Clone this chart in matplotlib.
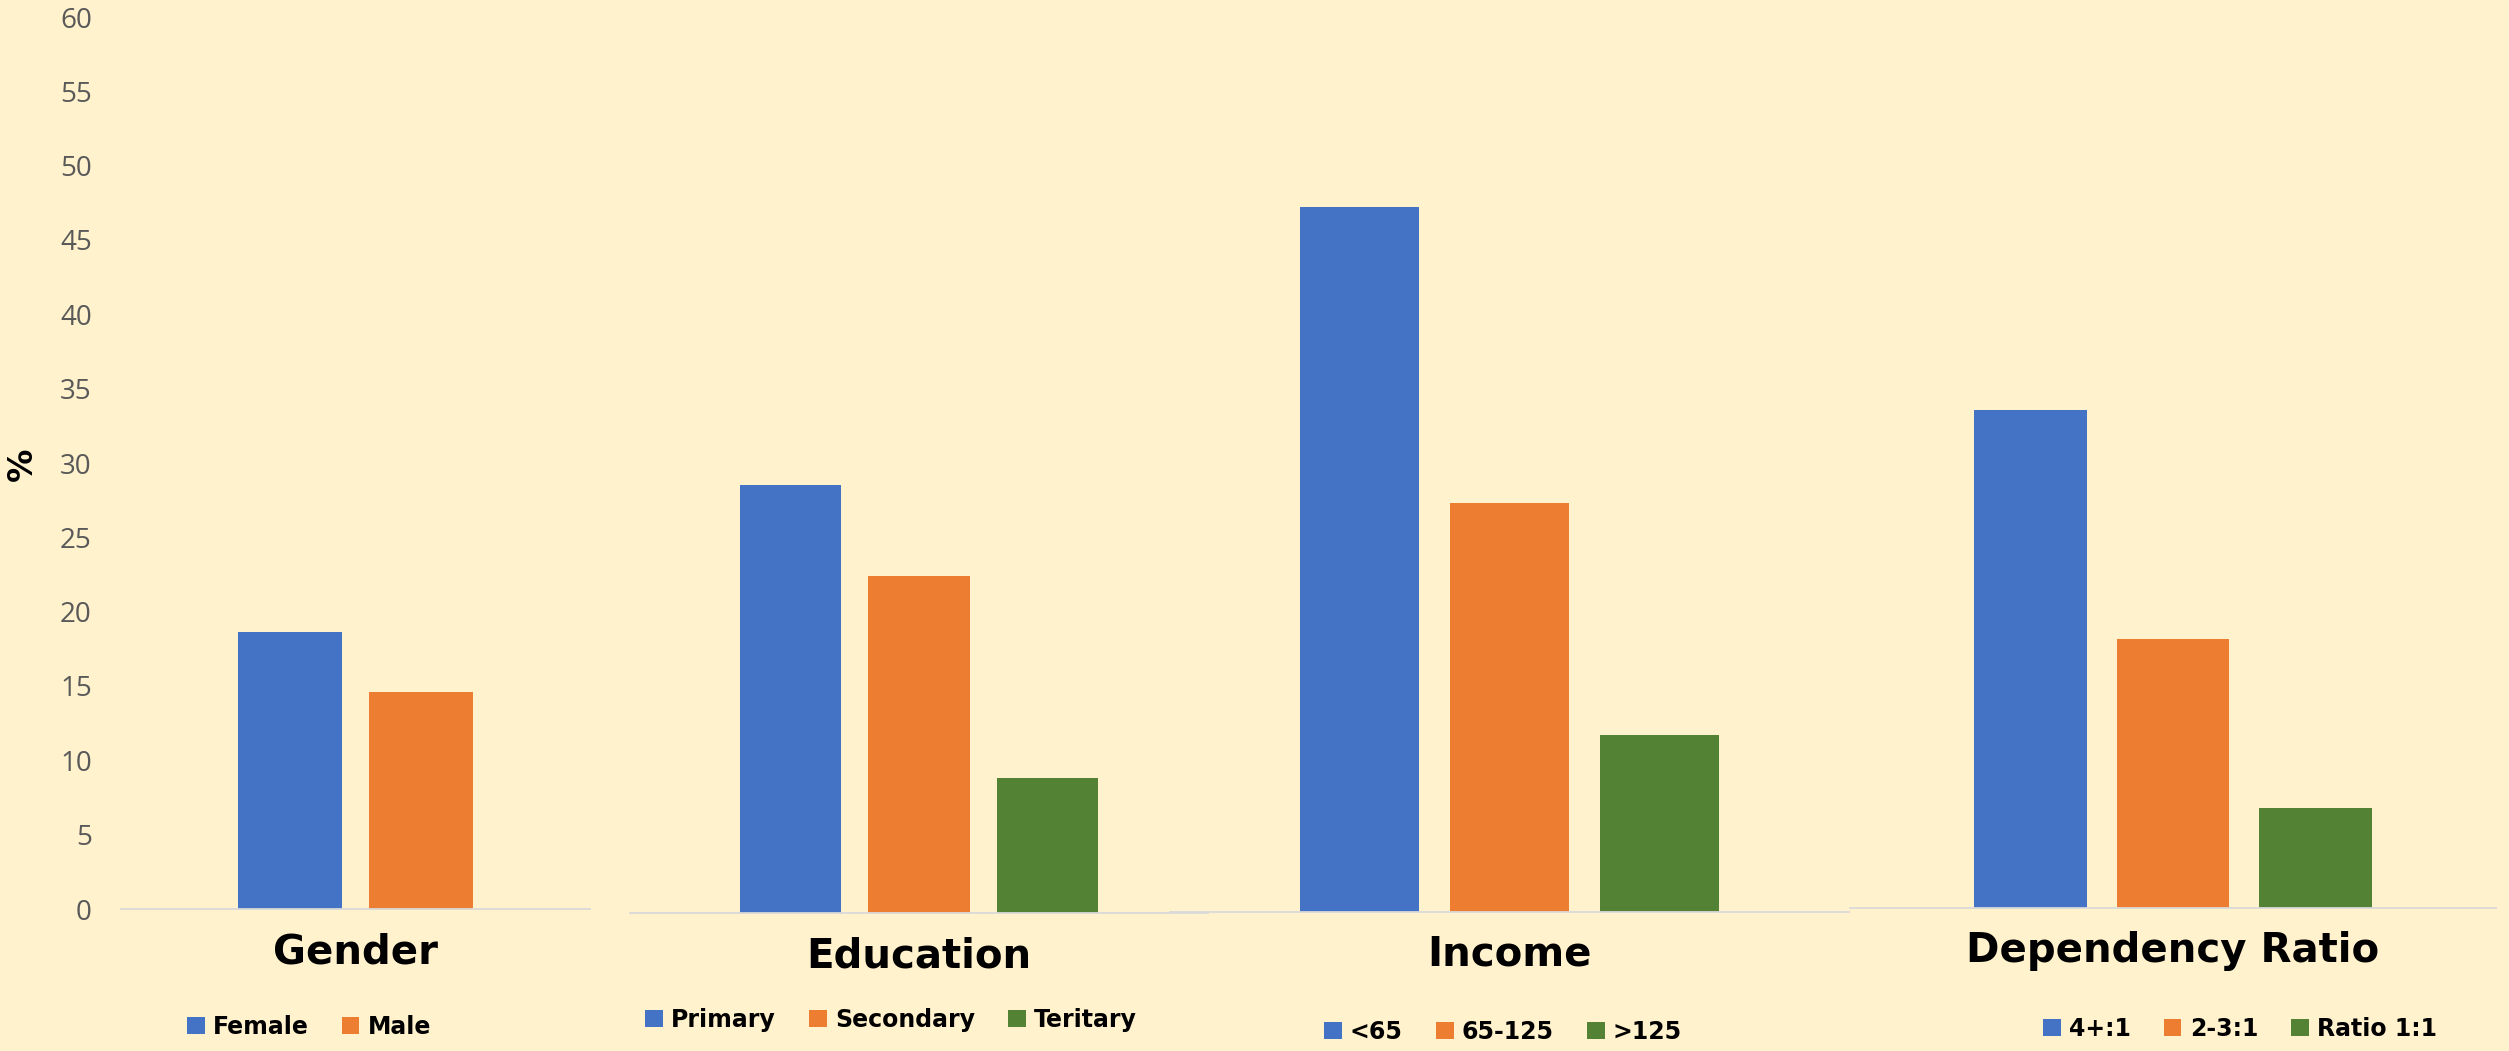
import matplotlib
matplotlib.use("Agg")
import matplotlib.pyplot as plt

# ---- data ----
panel_titles = ["Gender", "Education", "Income", "Dependency Ratio"]
gender_labels = ["Female", "Male"]
gender_values = [18.6, 14.6]
education_labels = ["Primary", "Secondary", "Teritary"]
education_values = [28.8, 22.7, 9.1]
income_labels = ["<65", "65-125", ">125"]
income_values = [47.4, 27.5, 11.9]
dependency_labels = ["4+:1", "2-3:1", "Ratio 1:1"]
dependency_values = [33.5, 18.1, 6.7]
y_ticks = list(range(0, 61, 5))

colors = ["#4472C4", "#ED7D31", "#548235"]
bg = "#FFF2CC"

W, H = 2509, 1051
fig = plt.figure(figsize=(W / 100, H / 100), dpi=100, facecolor=bg)

px_per_unit = (909 - 17) / 60.0

# (left px, right px, baseline px, pad, legend center x, legend y, legend-x)
layout = [
    (121, 590, 909, 1.29, 309, 1027),
    (630, 1208, 913, 1.25, 891, 1020),
    (1170, 1849, 912, 1.26, 1503, 1032),
    (1850, 2496, 908, 1.26, 2240, 1029),
]
panels = [
    (gender_labels, gender_values),
    (education_labels, education_values),
    (income_labels, income_values),
    (dependency_labels, dependency_values),
]

for i, ((labels, values), (l, r, base, pad, lcx, lcy)) in enumerate(zip(panels, layout)):
    height_px = 60 * px_per_unit
    ax = fig.add_axes([l / W, 1 - base / H, (r - l) / W, height_px / H])
    ax.set_facecolor("none")
    n = len(values)
    handles = []
    for j, (lab, v) in enumerate(zip(labels, values)):
        b = ax.bar(j, v, width=0.79, color=colors[j], label=lab, zorder=2)
        handles.append(b)
    ax.set_xlim(-pad, n - 1 + pad)
    ax.set_ylim(0, 60)
    for s in ["top", "right", "left"]:
        ax.spines[s].set_visible(False)
    ax.spines["bottom"].set_color("#D9D9D9")
    ax.spines["bottom"].set_linewidth(1.3)
    ax.set_xticks([])
    if i == 0:
        ax.set_yticks(y_ticks)
        ax.tick_params(axis="y", length=0, pad=21, labelsize=20, labelcolor="#595959")
        for t in ax.get_yticklabels():
            t.set_fontfamily("Open Sans")
    else:
        ax.set_yticks([])
    ax.annotate(panel_titles[i], xy=(0.5, 0), xycoords="axes fraction",
                xytext=(0, -(952 - 909)), textcoords="offset pixels",
                ha="center", va="center", fontsize=29, fontweight="bold",
                color="black")
    fig.legend(handles=handles, labels=labels, loc="center",
               bbox_to_anchor=(lcx / W, 1 - lcy / H), ncol=n, frameon=False,
               handlelength=0.75, handleheight=0.75, handletextpad=0.35,
               columnspacing=1.4, prop={"size": 17, "weight": "bold"})

fig.text(22 / W, 1 - 464 / H, "%", rotation=90, ha="center", va="center",
         fontsize=24, fontweight="bold", color="black")

fig.savefig("out.png", dpi=100, facecolor=bg)
